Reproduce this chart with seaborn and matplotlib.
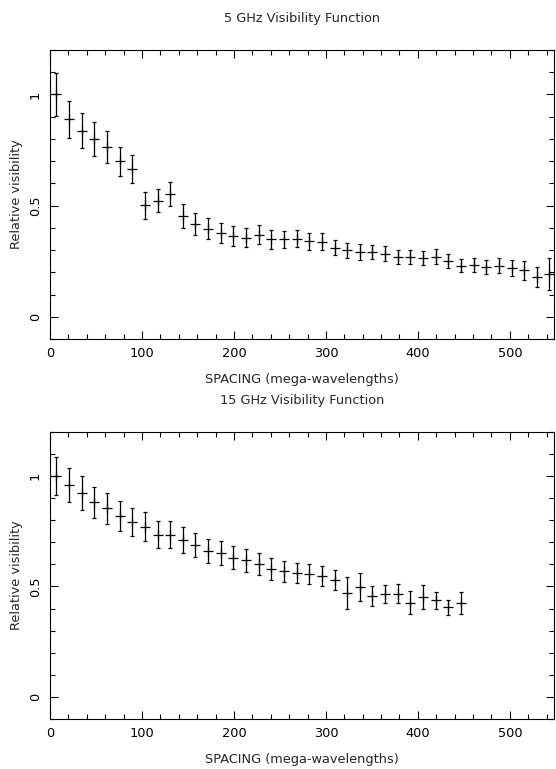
import numpy as np
import pandas as pd
import matplotlib
matplotlib.use("Agg")
import matplotlib.pyplot as plt
import seaborn as sns
from matplotlib.ticker import MultipleLocator

# Visibility amplitudes
spacing_5 = [6.9, 20.6, 34.4, 48.1, 61.9, 75.6, 89.4, 103.1, 116.9, 130.6,
             144.4, 158.1, 171.9, 185.6, 199.4, 213.1, 226.9, 240.6, 254.4, 268.1,
             281.9, 295.6, 309.4, 323.1, 336.9, 350.6, 364.4, 378.1, 391.9, 405.6,
             419.4, 433.1, 446.9, 460.6, 474.4, 488.1, 501.9, 515.6, 529.4, 543.1]
vis_5 = [1.000, 0.888, 0.838, 0.798, 0.765, 0.700, 0.667, 0.502, 0.523, 0.553,
         0.453, 0.418, 0.396, 0.378, 0.363, 0.355, 0.370, 0.348, 0.348, 0.351,
         0.340, 0.337, 0.311, 0.300, 0.292, 0.292, 0.284, 0.268, 0.268, 0.265,
         0.270, 0.250, 0.231, 0.235, 0.223, 0.231, 0.219, 0.210, 0.180, 0.194]
err_5 = [0.097, 0.084, 0.080, 0.076, 0.073, 0.066, 0.063, 0.060, 0.053, 0.053,
         0.053, 0.050, 0.047, 0.044, 0.044, 0.043, 0.044, 0.041, 0.040, 0.039,
         0.038, 0.038, 0.035, 0.034, 0.035, 0.033, 0.034, 0.031, 0.031, 0.031,
         0.033, 0.031, 0.030, 0.031, 0.031, 0.034, 0.037, 0.042, 0.046, 0.071]

spacing_15 = spacing_5[:33]
vis_15 = [1.000, 0.960, 0.923, 0.880, 0.853, 0.820, 0.793, 0.771, 0.735, 0.733,
          0.711, 0.687, 0.661, 0.651, 0.631, 0.618, 0.603, 0.579, 0.569, 0.562,
          0.555, 0.547, 0.528, 0.471, 0.498, 0.457, 0.465, 0.468, 0.426, 0.453,
          0.438, 0.405, 0.426]
err_15 = [0.085, 0.078, 0.075, 0.071, 0.070, 0.067, 0.064, 0.064, 0.060, 0.061,
          0.058, 0.055, 0.055, 0.054, 0.052, 0.051, 0.050, 0.048, 0.047, 0.046,
          0.045, 0.045, 0.045, 0.071, 0.065, 0.047, 0.042, 0.041, 0.052, 0.054,
          0.039, 0.033, 0.050]

titles = ["5 GHz Visibility Function", "15 GHz Visibility Function"]
xlabel = "SPACING (mega-wavelengths)"
ylabel = "Relative visibility"

sns.set_theme(style="ticks")
plt.rcParams["font.family"] = ["DejaVu Sans"]
plt.rcParams["axes.edgecolor"] = "black"
plt.rcParams["axes.linewidth"] = 0.8

fig = plt.figure(figsize=(5.56, 7.69), dpi=100)
fig.patch.set_facecolor("white")

panels = [
    (pd.DataFrame({"spacing": spacing_5, "vis": vis_5, "err": err_5}), [0.0899, 0.559, 0.9065, 0.376]),
    (pd.DataFrame({"spacing": spacing_15, "vis": vis_15, "err": err_15}), [0.0899, 0.065, 0.9065, 0.3735]),
]

for (df, rect), title in zip(panels, titles):
    ax = fig.add_axes(rect)
    ax.errorbar(df["spacing"], df["vis"], yerr=df["err"], fmt="none",
                ecolor="black", elinewidth=0.9, capsize=1.6, capthick=0.9)
    sns.scatterplot(data=df, x="spacing", y="vis", marker="+", s=45,
                    color="black", linewidth=0.9, ax=ax)
    ax.set_xlim(0, 548)
    ax.set_ylim(-0.1, 1.2)
    ax.xaxis.set_major_locator(MultipleLocator(100))
    ax.xaxis.set_minor_locator(MultipleLocator(20))
    ax.yaxis.set_minor_locator(MultipleLocator(0.1))
    ax.set_yticks([0, 0.5, 1])
    ax.set_yticklabels(["0", "0.5", "1"], rotation=90, va="center")
    ax.tick_params(which="both", direction="in", top=True, right=True,
                   colors="black", labelsize=9.3)
    ax.tick_params(which="major", length=6, width=0.8, pad=6)
    ax.tick_params(which="minor", length=3.5, width=0.8)
    ax.set_title(title, fontsize=9.3, pad=20)
    ax.set_xlabel(xlabel, fontsize=9.3, labelpad=9)
    ax.set_ylabel(ylabel, fontsize=9.3, labelpad=4)
    for side in ["top", "right", "left", "bottom"]:
        ax.spines[side].set_visible(True)
        ax.spines[side].set_color("black")

fig.savefig("out.png", dpi=100, facecolor="white")
